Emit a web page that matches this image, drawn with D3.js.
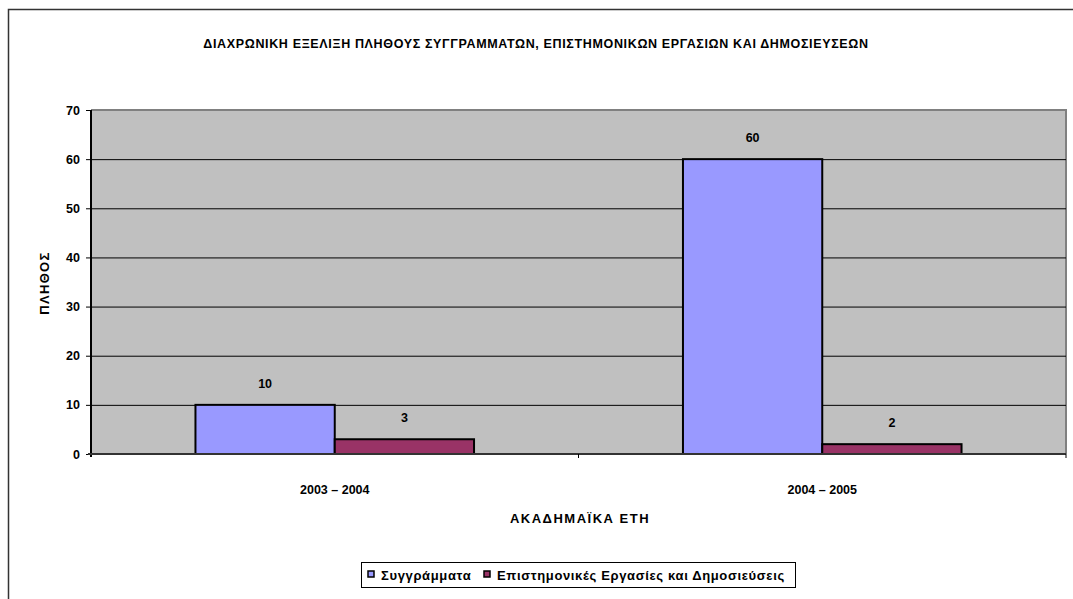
<!DOCTYPE html>
<html><head><meta charset="utf-8">
<script src="https://cdn.jsdelivr.net/npm/d3@7"></script>
<style>body{margin:0;background:#fff;} text{font-family:"Liberation Sans",Arial,sans-serif;font-weight:bold;}</style>
</head><body>
<svg id="c" width="1073" height="599"></svg>
<script>
const categories = ["2003 – 2004", "2004 – 2005"];
const seriesNames = ["Συγγράμματα", "Επιστημονικές Εργασίες και Δημοσιεύσεις"];
const books = [10, 60];
const papers = [3, 2];
const yTicks = [0, 10, 20, 30, 40, 50, 60, 70];
const colors = ["#9999FF", "#993366"];
const title = "ΔΙΑΧΡΩΝΙΚΗ ΕΞΕΛΙΞΗ ΠΛΗΘΟΥΣ ΣΥΓΓΡΑΜΜΑΤΩΝ, ΕΠΙΣΤΗΜΟΝΙΚΩΝ ΕΡΓΑΣΙΩΝ ΚΑΙ ΔΗΜΟΣΙΕΥΣΕΩΝ";
const yTitle = "ΠΛΗΘΟΣ";
const xTitle = "ΑΚΑΔΗΜΑΪΚΑ ΕΤΗ";

const series = [books, papers];
const svg = d3.select("#c");
// outer frame
svg.append("path").attr("d","M8.5,599 L8.5,9.5 L1073,9.5").attr("fill","none").attr("stroke","#333").attr("stroke-width",1.5);

const L=91, R=1066, T=110, B=454;
const x = d3.scaleBand().domain(categories).range([L,R]);
const y = d3.scaleLinear().domain([0,70]).range([B,T]);
const bw = x.bandwidth()/3.5;

svg.append("rect").attr("x",L).attr("y",T).attr("width",R-L).attr("height",B-T).attr("fill","#C0C0C0");
// plot border top/right
svg.append("path").attr("d",`M${L},${T} L${R},${T} L${R},${B}`).attr("fill","none").attr("stroke","#808080").attr("stroke-width",2);
// gridlines
svg.append("g").selectAll("line").data(yTicks.filter(d=>d>0&&d<70)).join("line")
  .attr("x1",L).attr("x2",R).attr("y1",d=>y(d)+0.5).attr("y2",d=>y(d)+0.5).attr("stroke","#000").attr("stroke-width",1);

// bars
series.forEach((vals,si)=>{
  svg.append("g").selectAll("rect").data(vals).join("rect")
    .attr("x",(d,i)=>x(categories[i])+x.bandwidth()/2 - bw + si*bw)
    .attr("y",d=>y(d)).attr("width",bw).attr("height",d=>B-y(d))
    .attr("fill",colors[si]).attr("stroke","#000").attr("stroke-width",2);
  svg.append("g").selectAll("text").data(vals).join("text")
    .attr("x",(d,i)=>x(categories[i])+x.bandwidth()/2 - bw/2 + si*bw)
    .attr("y",d=>y(d)-17).attr("text-anchor","middle").attr("font-size",12.5).text(d=>d);
});

// y axis
const ya = svg.append("g").attr("transform",`translate(${L},0)`)
  .call(d3.axisLeft(y).tickValues(yTicks).tickSize(5).tickPadding(6));
ya.select(".domain").remove();
ya.append("line").attr("x1",0).attr("x2",0).attr("y1",T).attr("y2",B+3).attr("stroke","#000").attr("stroke-width",2);
ya.selectAll(".tick line").attr("stroke","#000");
ya.selectAll("text").attr("font-size",12.5).attr("fill","#000").style("font-family","Liberation Sans, Arial").style("font-weight","bold");

// x axis
const xa = svg.append("g").attr("transform",`translate(0,${B})`)
  .call(d3.axisBottom(x).tickSize(0).tickPadding(31));
xa.select(".domain").remove();
xa.append("line").attr("x1",L-3).attr("x2",R).attr("y1",0).attr("y2",0).attr("stroke","#333").attr("stroke-width",2);
xa.selectAll("text").attr("font-size",12.5).attr("fill","#000").style("font-family","Liberation Sans, Arial").style("font-weight","bold");
// category boundary ticks
xa.append("g").selectAll("line").data([x(categories[1]), R]).join("line")
  .attr("x1",d=>d).attr("x2",d=>d).attr("y1",0).attr("y2",4).attr("stroke","#000");

svg.append("text").attr("x",536).attr("y",48).attr("text-anchor","middle").attr("font-size",12.5).attr("letter-spacing",0.65).text(title);
svg.append("text").attr("transform","translate(49,283) rotate(-90)").attr("text-anchor","middle").attr("font-size",13).attr("letter-spacing",1.3).text(yTitle);
svg.append("text").attr("x",580).attr("y",523).attr("text-anchor","middle").attr("font-size",13).attr("letter-spacing",1.5).text(xTitle);

// legend
const lg = svg.append("g");
lg.append("rect").attr("x",361.5).attr("y",562.5).attr("width",434).attr("height",25).attr("fill","#fff").attr("stroke","#000");
const items = [{x:368, tx:381},{x:484, tx:497}];
seriesNames.forEach((n,i)=>{
  lg.append("rect").attr("x",items[i].x).attr("y",571).attr("width",6).attr("height",6).attr("fill",colors[i]).attr("stroke","#000").attr("stroke-width",1.5);
  lg.append("text").attr("x",items[i].tx).attr("y",580).attr("font-size",13).attr("letter-spacing",0.65).text(n);
});
</script>
</body></html>
